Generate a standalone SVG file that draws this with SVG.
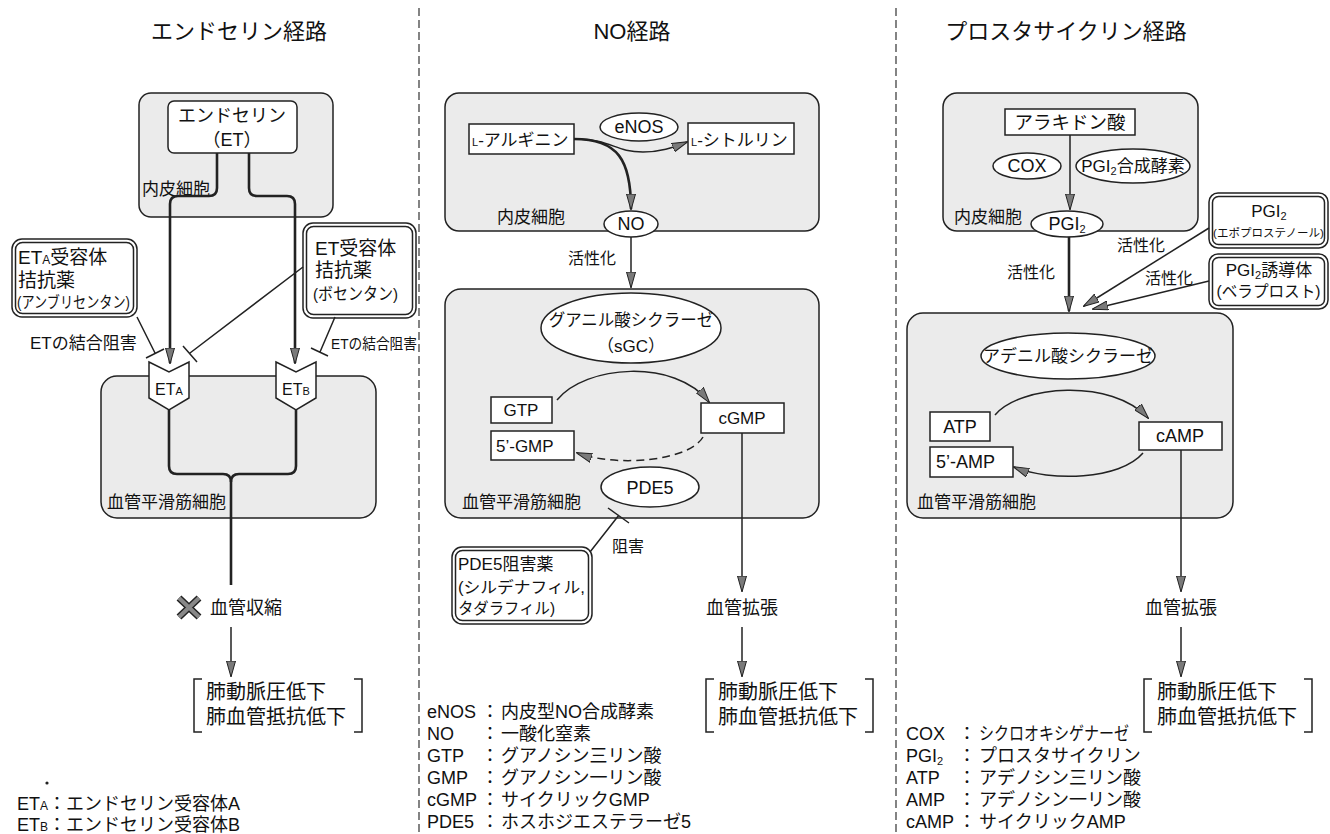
<svg xmlns="http://www.w3.org/2000/svg" width="1330" height="834" viewBox="0 0 1330 834">
<defs>
<style>
.cell{fill:#ebebeb;stroke:#222;stroke-width:1.5}
.box{fill:#fff;stroke:#222;stroke-width:1.5}
.ell{fill:#fff;stroke:#222;stroke-width:1.5}
.ln{fill:none;stroke:#222;stroke-width:1.5}
.thk{fill:none;stroke:#222;stroke-width:2.6}
.dash{fill:none;stroke:#222;stroke-width:1.5;stroke-dasharray:8 5}
.div{fill:none;stroke:#333;stroke-width:1.2;stroke-dasharray:8 4}
.t{font-family:"Liberation Sans","Noto Sans CJK JP",sans-serif;fill:#111}
.m{text-anchor:middle}
</style>
<marker id="ah" viewBox="0 0 16 10" refX="15" refY="5" markerWidth="16" markerHeight="10" markerUnits="userSpaceOnUse" orient="auto">
<path d="M0,0.5 L16,5 L0,9.5 z" fill="#7a7a7a" stroke="#222" stroke-width="1"/>
</marker>
</defs>
<rect width="1330" height="834" fill="#fff"/>

<g id="dividers">
<path class="div" d="M419,8 V834"/>
<path class="div" d="M896,8 V834"/>
</g>

<g id="titles">
<text class="t m" x="239" y="39" font-size="22">エンドセリン経路</text>
<text class="t m" x="632" y="39" font-size="22">NO経路</text>
<text class="t m" x="1066" y="39" font-size="22">プロスタサイクリン経路</text>
</g>

<!-- ===== Endothelin pathway ===== -->
<g id="et-endothelial">
<rect class="cell" x="139" y="93" width="194" height="124" rx="12"/>
<text class="t" x="142" y="195" font-size="17">内皮細胞</text>
</g>
<g id="et-smooth">
<rect class="cell" x="101" y="376" width="275" height="142" rx="16"/>
<text class="t" x="107" y="508" font-size="17">血管平滑筋細胞</text>
</g>
<g id="et-node">
<rect class="box" x="168" y="101" width="129" height="52" rx="6"/>
<text class="t m" x="232" y="122" font-size="18">エンドセリン</text>
<text class="t m" x="232" y="146" font-size="18">（ET）</text>
</g>
<g id="eta-antagonist">
<rect class="box" x="12" y="239" width="125" height="78" rx="10"/>
<rect class="box" x="15.5" y="242.5" width="118" height="71" rx="7"/>
<text class="t" x="18" y="264" font-size="19">ET<tspan font-size="12">A</tspan>受容体</text>
<text class="t" x="18" y="287" font-size="19">拮抗薬</text>
<text class="t" x="17" y="308" font-size="16" textLength="113" lengthAdjust="spacingAndGlyphs">(アンブリセンタン)</text>
</g>
<g id="et-antagonist">
<rect class="box" x="303" y="223" width="113" height="95" rx="10"/>
<rect class="box" x="306.5" y="226.5" width="106" height="88" rx="7"/>
<text class="t" x="315" y="255" font-size="19">ET受容体</text>
<text class="t" x="315" y="277" font-size="19">拮抗薬</text>
<text class="t" x="313" y="300" font-size="17" textLength="85" lengthAdjust="spacingAndGlyphs">(ボセンタン)</text>
</g>
<g id="eta-receptor">
<path class="box" d="M149,362 L169,372 L189,362 V398 L169,410 L149,398 Z"/>
<text class="t m" x="169" y="395" font-size="16">ET<tspan font-size="11">A</tspan></text>
</g>
<g id="etb-receptor">
<path class="box" d="M276,362 L296,372 L316,362 V398 L296,410 L276,398 Z"/>
<text class="t m" x="296" y="395" font-size="16">ET<tspan font-size="11">B</tspan></text>
</g>
<g id="et-labels">
<text class="t" x="30" y="349" font-size="17">ETの結合阻害</text>
<text class="t" x="331" y="349" font-size="15" textLength="86" lengthAdjust="spacingAndGlyphs">ETの結合阻害</text>
<text class="t" x="210" y="614" font-size="18">血管収縮</text>
</g>
<g id="et-x">
<path d="M179,598 L199,617 M199,598 L179,617" stroke="#222" stroke-width="7" fill="none"/>
<path d="M179,598 L199,617 M199,598 L179,617" stroke="#888" stroke-width="4" fill="none"/>
</g>
<g id="et-result">
<path class="ln" d="M202,679 H194 V732 H202 M354,679 H362 V732 H354"/>
<text class="t" x="206" y="699" font-size="20">肺動脈圧低下</text>
<text class="t" x="206" y="724" font-size="20">肺血管抵抗低下</text>
</g>
<g id="et-legend">
<circle cx="47" cy="783" r="1.6" fill="#222"/>
<text class="t" x="17" y="810" font-size="18">ET<tspan font-size="12">A</tspan>：エンドセリン受容体A</text>
<text class="t" x="17" y="831" font-size="18">ET<tspan font-size="12">B</tspan>：エンドセリン受容体B</text>
</g>

<!-- ===== NO pathway ===== -->
<g id="no-endothelial">
<rect class="cell" x="445" y="93" width="374" height="138" rx="14"/>
<text class="t" x="497" y="223" font-size="17">内皮細胞</text>
</g>
<g id="no-smooth">
<rect class="cell" x="445" y="289" width="374" height="229" rx="16"/>
<text class="t" x="462" y="508" font-size="17">血管平滑筋細胞</text>
</g>
<g id="l-arginine">
<rect class="box" x="469" y="124" width="105" height="30"/>
<text class="t" x="472" y="146" font-size="17"><tspan font-size="11">L</tspan>-アルギニン</text>
</g>
<g id="enos">
<ellipse class="ell" cx="639" cy="127" rx="39" ry="14"/>
<text class="t m" x="639" y="133" font-size="18">eNOS</text>
</g>
<g id="l-citrulline">
<rect class="box" x="688" y="123" width="106" height="31"/>
<text class="t" x="691" y="146" font-size="17"><tspan font-size="11">L</tspan>-シトルリン</text>
</g>
<g id="no-node">
<ellipse class="ell" cx="631" cy="224" rx="27" ry="13"/>
<text class="t m" x="631" y="230" font-size="18">NO</text>
</g>
<g id="sgc">
<ellipse class="ell" cx="631" cy="328" rx="90" ry="35"/>
<text class="t m" x="631" y="326" font-size="16.5">グアニル酸シクラーゼ</text>
<text class="t m" x="631" y="352" font-size="17">（sGC）</text>
</g>
<g id="gtp">
<rect class="box" x="491" y="397" width="61" height="26"/>
<text class="t m" x="521" y="416" font-size="17">GTP</text>
</g>
<g id="gmp5">
<rect class="box" x="491" y="431" width="83" height="29"/>
<text class="t" x="496" y="452" font-size="17">5’-GMP</text>
</g>
<g id="cgmp">
<rect class="box" x="701" y="403" width="83" height="30"/>
<text class="t m" x="742" y="424" font-size="17">cGMP</text>
</g>
<g id="pde5">
<ellipse class="ell" cx="650" cy="487" rx="49" ry="20"/>
<text class="t m" x="650" y="494" font-size="18">PDE5</text>
</g>
<g id="pde5-inhibitor">
<rect class="box" x="452" y="547" width="140" height="77" rx="10"/>
<rect class="box" x="455.5" y="550.5" width="133" height="70" rx="7"/>
<text class="t" x="458" y="570" font-size="17">PDE5阻害薬</text>
<text class="t" x="458" y="593" font-size="16" textLength="127" lengthAdjust="spacingAndGlyphs">(シルデナフィル,</text>
<text class="t" x="458" y="614" font-size="16" textLength="97" lengthAdjust="spacingAndGlyphs">タダラフィル)</text>
</g>
<g id="no-labels">
<text class="t" x="568" y="264" font-size="16">活性化</text>
<text class="t" x="612" y="552" font-size="16">阻害</text>
<text class="t m" x="742" y="614" font-size="18">血管拡張</text>
</g>
<g id="no-result">
<path class="ln" d="M714,679 H706 V732 H714 M865,679 H873 V732 H865"/>
<text class="t" x="718" y="699" font-size="20">肺動脈圧低下</text>
<text class="t" x="718" y="724" font-size="20">肺血管抵抗低下</text>
</g>
<g id="no-legend">
<text class="t" y="718" font-size="18"><tspan x="427">eNOS</tspan><tspan x="481">：</tspan><tspan x="501">内皮型NO合成酵素</tspan></text>
<text class="t" y="740" font-size="18"><tspan x="427">NO</tspan><tspan x="481">：</tspan><tspan x="501">一酸化窒素</tspan></text>
<text class="t" y="762" font-size="18"><tspan x="427">GTP</tspan><tspan x="481">：</tspan><tspan x="501">グアノシン三リン酸</tspan></text>
<text class="t" y="784" font-size="18"><tspan x="427">GMP</tspan><tspan x="481">：</tspan><tspan x="501">グアノシン一リン酸</tspan></text>
<text class="t" y="806" font-size="18"><tspan x="427">cGMP</tspan><tspan x="481">：</tspan><tspan x="501">サイクリックGMP</tspan></text>
<text class="t" y="828" font-size="18"><tspan x="427">PDE5</tspan><tspan x="481">：</tspan><tspan x="501">ホスホジエステラーゼ5</tspan></text>
</g>

<!-- ===== Prostacyclin pathway ===== -->
<g id="pg-endothelial">
<rect class="cell" x="943" y="93" width="255" height="138" rx="14"/>
<text class="t" x="954" y="223" font-size="17">内皮細胞</text>
</g>
<g id="pg-smooth">
<rect class="cell" x="907" y="313" width="326" height="205" rx="16"/>
<text class="t" x="917" y="508" font-size="17">血管平滑筋細胞</text>
</g>
<g id="arachidonic">
<rect class="box" x="1005" y="109" width="130" height="26"/>
<text class="t m" x="1070" y="129" font-size="18.5">アラキドン酸</text>
</g>
<g id="cox">
<ellipse class="ell" cx="1027" cy="166" rx="34" ry="13"/>
<text class="t m" x="1027" y="172" font-size="18">COX</text>
</g>
<g id="pgi2-synthase">
<ellipse class="ell" cx="1133" cy="166" rx="57" ry="17"/>
<text class="t m" x="1133" y="172" font-size="17">PGI<tspan font-size="11" dy="3">2</tspan><tspan dy="-3">合成酵素</tspan></text>
</g>
<g id="pgi2-node">
<ellipse class="ell" cx="1067" cy="224" rx="36" ry="13"/>
<text class="t m" x="1067" y="230" font-size="18">PGI<tspan font-size="11" dy="3">2</tspan></text>
</g>
<g id="epoprostenol">
<rect class="box" x="1209" y="193" width="119" height="55" rx="9"/>
<rect class="box" x="1212.5" y="196.5" width="112" height="48" rx="6"/>
<text class="t m" x="1269" y="217" font-size="17">PGI<tspan font-size="11" dy="3">2</tspan></text>
<text class="t m" x="1268.5" y="237" font-size="11.5">(エポプロステノール)</text>
</g>
<g id="beraprost">
<rect class="box" x="1209" y="254" width="119" height="55" rx="9"/>
<rect class="box" x="1212.5" y="257.5" width="112" height="48" rx="6"/>
<text class="t m" x="1269" y="276" font-size="17">PGI<tspan font-size="11" dy="3">2</tspan><tspan dy="-3">誘導体</tspan></text>
<text class="t m" x="1268.5" y="297" font-size="16" textLength="104" lengthAdjust="spacingAndGlyphs">(ベラプロスト)</text>
</g>
<g id="adenylate-cyclase">
<ellipse class="ell" cx="1068" cy="356" rx="87" ry="23"/>
<text class="t m" x="1068" y="362" font-size="17">アデニル酸シクラーゼ</text>
</g>
<g id="atp">
<rect class="box" x="930" y="412" width="60" height="29"/>
<text class="t m" x="960" y="433" font-size="18">ATP</text>
</g>
<g id="amp5">
<rect class="box" x="930" y="447" width="83" height="30"/>
<text class="t" x="936" y="468" font-size="18">5’-AMP</text>
</g>
<g id="camp">
<rect class="box" x="1139" y="422" width="83" height="28"/>
<text class="t m" x="1180" y="442" font-size="18">cAMP</text>
</g>
<g id="pg-labels">
<text class="t" x="1007" y="278" font-size="16">活性化</text>
<text class="t" x="1117" y="251" font-size="16">活性化</text>
<text class="t" x="1145" y="284" font-size="16">活性化</text>
<text class="t m" x="1181" y="614" font-size="18">血管拡張</text>
</g>
<g id="pg-result">
<path class="ln" d="M1152,679 H1144 V732 H1152 M1304,679 H1312 V732 H1304"/>
<text class="t" x="1157" y="699" font-size="20">肺動脈圧低下</text>
<text class="t" x="1157" y="724" font-size="20">肺血管抵抗低下</text>
</g>
<g id="pg-legend">
<text class="t" y="740" font-size="18"><tspan x="906">COX</tspan><tspan x="958">：</tspan><tspan x="979" textLength="150" lengthAdjust="spacingAndGlyphs">シクロオキシゲナーゼ</tspan></text>
<text class="t" y="762" font-size="18"><tspan x="906">PGI</tspan><tspan font-size="11" dy="3">2</tspan><tspan x="958" dy="-3">：</tspan><tspan x="979">プロスタサイクリン</tspan></text>
<text class="t" y="784" font-size="18"><tspan x="906">ATP</tspan><tspan x="958">：</tspan><tspan x="979">アデノシン三リン酸</tspan></text>
<text class="t" y="806" font-size="18"><tspan x="906">AMP</tspan><tspan x="958">：</tspan><tspan x="979">アデノシン一リン酸</tspan></text>
<text class="t" y="828" font-size="18"><tspan x="906">cAMP</tspan><tspan x="958">：</tspan><tspan x="979">サイクリックAMP</tspan></text>
</g>

<!-- ===== Connectors ===== -->
<g id="connectors">
<path class="thk" d="M217,153 V188 Q217,196 209,196 H178 Q170,196 170,204 V363" marker-end="url(#ah)"/>
<path class="thk" d="M249,153 V188 Q249,196 257,196 H287 Q295,196 295,204 V363" marker-end="url(#ah)"/>
<path class="thk" d="M169,410 V466 Q169,474 177,474 H223 Q231,474 231,482 V585"/>
<path class="thk" d="M296,410 V466 Q296,474 288,474 H239 Q231,474 231,482"/>
<path class="ln" d="M231,627 V676" marker-end="url(#ah)"/>
<path class="ln" d="M137,317 L155,353 M146,358 L164,349"/>
<path class="ln" d="M303,267 L190,353 M183,346 L197,362"/>
<path class="ln" d="M335,317 L320,352 M311,348 L328,356"/>
<path class="thk" d="M574,139 C618,139 631,160 631,209" marker-end="url(#ah)"/>
<path class="ln" d="M574,139 C612,139 614,152 643,152 C660,152 672,148 687,142" marker-end="url(#ah)"/>
<path class="ln" d="M631,237 V287" marker-end="url(#ah)"/>
<path class="ln" d="M557,400 C585,365 675,358 709,402" marker-end="url(#ah)"/>
<path class="dash" d="M703,437 C690,460 620,468 577,453" marker-end="url(#ah)"/>
<path class="ln" d="M590,552 L619,515 M608,508 L629,523"/>
<path class="ln" d="M742,433 V591" marker-end="url(#ah)"/>
<path class="ln" d="M742,627 V676" marker-end="url(#ah)"/>
<path class="ln" d="M1070,135 V209" marker-end="url(#ah)"/>
<path class="thk" d="M1069,237 V311" marker-end="url(#ah)"/>
<path class="ln" d="M1209,228 L1084,306" marker-end="url(#ah)"/>
<path class="ln" d="M1209,281 L1093,309" marker-end="url(#ah)"/>
<path class="ln" d="M995,415 C1020,385 1112,378 1148,418" marker-end="url(#ah)"/>
<path class="ln" d="M1143,453 C1120,480 1050,482 1014,467" marker-end="url(#ah)"/>
<path class="ln" d="M1181,450 V591" marker-end="url(#ah)"/>
<path class="ln" d="M1181,627 V676" marker-end="url(#ah)"/>
</g>
</svg>
